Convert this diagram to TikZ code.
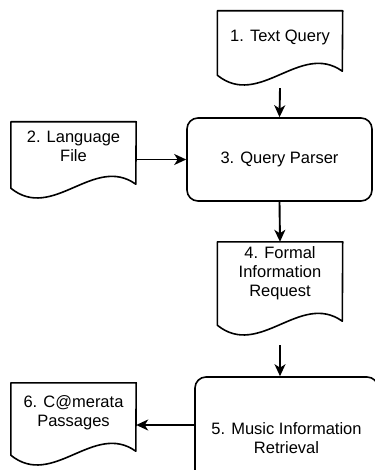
\documentclass[tikz,border=0pt]{standalone}
\usepackage{fontspec}
\setmainfont{Liberation Sans}
\usetikzlibrary{arrows.meta}

\tikzset{
  doc/.style={minimum width=125pt, inner sep=0pt, align=center},
  proc/.style={draw, line width=1.6pt, rounded corners=11pt, inner sep=0pt, align=center},
  arr/.style={line width=1.9pt, -{Stealth[length=12pt,width=11pt,inset=3.5pt]}},
}

\begin{document}
\begin{tikzpicture}[x=1pt, y=-1pt, font=\fontsize{16.5}{18.8}\selectfont]
  \useasboundingbox (0,0) rectangle (374,470);
  % documents
  \node[doc, minimum height=52pt] (query) at (280,37) {1. Text Query};
  \node[doc, minimum height=49pt] (lang) at (73.5,146.5) {2. Language\\File};
  \node[doc, minimum height=62pt] (request) at (280,273) {4. Formal\\Information\\Request};
  \node[doc, minimum height=59pt] (passages) at (73.5,412.5) {6. C@merata\\Passages};
  % processes
  \node[proc, minimum width=185pt, minimum height=83pt] (parser) at (279.5,159.5) {3. Query Parser};
  \node[proc, minimum width=183pt, minimum height=122pt] (mir) at (286.5,438) {5. Music Information\\Retrieval};

  % wavy outlines of the documents
  \foreach \n/\e in {query/12, lang/17, request/21, passages/13} {
    \draw[line width=1.6pt, line join=round] (\n.north west) -- ([yshift=-\e pt]\n.south west)
      .. controls +(42,34) and +(-42,-30) .. ++(125,-4) -- (\n.north east) -- cycle;
  }

  \draw[arr] ([yshift=-25pt]query.south) -- (parser.north);
  \draw[arr] (lang.east |- parser.west) -- (parser.west);
  \draw[arr] (parser.south) -- (request.north);
  \draw[arr] ([yshift=-41pt]request.south) -- (request.south |- mir.north);
  \coordinate (pin) at ([yshift=-12.5pt]passages.east);
  \draw[arr] (mir.west |- pin) -- (pin);
\end{tikzpicture}
\end{document}
